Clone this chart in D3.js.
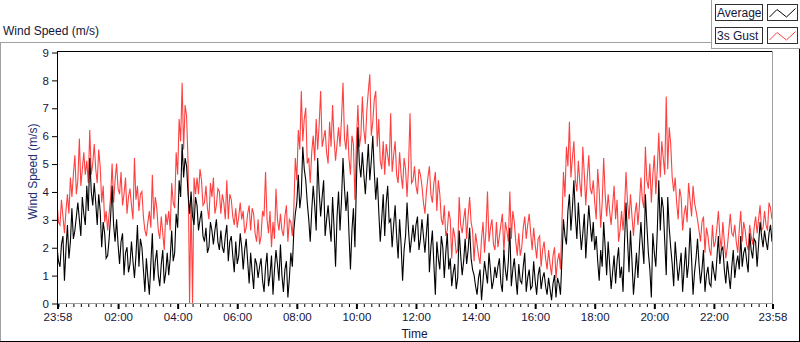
<!DOCTYPE html>
<html><head><meta charset="utf-8">
<script src="https://cdn.jsdelivr.net/npm/d3@7"></script>
<style>
html,body{margin:0;padding:0;background:#fff;}
svg{display:block;font-family:"Liberation Sans",Arial,sans-serif;}
</style></head><body><svg id="c" width="800" height="342"></svg>
<script>
// ---- data ----
const chartTitle = "Wind Speed (m/s)";
const yTitle = "Wind Speed (m/s)";
const xTitle = "Time";
const seriesNames = ["Average", "3s Gust"];
const yTickValues = [0,1,2,3,4,5,6,7,8,9];
const xMajorHours = [2,4,6,8,10,12,14,16,18,20,22];
const sampleMinutes = 3;
const gust = [
3.6,2.9,2.8,3.7,3.1, 2.5,3.3,3.9,3.2,4.5,
3.8,4.6,5.3,3.9,4.4, 5.9,4.2,4.8,5.4,4.6,
5.1,4.3,6.2,4.6,5.0, 5.7,4.8,4.3,5.5,4.9,
3.6,4.2,2.9,3.3,2.6, 3.2,3.8,5.0,3.6,4.4,
5.0,4.1,3.9,4.7,3.5, 3.9,4.5,3.2,3.8,4.1,
3.5,3.0,5.2,3.7,4.2, 3.3,3.9,4.0,3.1,2.6,
2.4,2.9,3.3,2.7,4.6, 3.0,3.8,3.4,2.6,2.3,
3.1,2.5,1.9,3.2,2.8, 3.3,2.6,4.3,3.6,3.4,
5.4,4.6,6.6,5.8,7.9, 5.5,7.1,6.7,5.0,0,
3.8,0,4.5,3.9,4.5, 3.9,4.8,4.4,3.5,3.6,
4.2,3.4,3.0,4.3,3.8, 4.5,3.2,3.5,4.1,4.0,
3.2,3.9,3.6,3.0,4.4, 3.0,3.9,3.7,3.1,2.8,
3.4,2.7,3.1,3.6,3.0, 3.3,2.5,2.7,3.2,3.5,
2.6,3.4,3.2,2.5,2.2, 3.0,2.1,2.4,3.3,3.1,
4.7,3.0,2.5,3.3,2.0, 2.9,2.3,4.1,3.0,2.6,
3.2,2.6,2.4,3.1,3.5, 2.2,3.0,2.9,2.4,3.4,
5.2,4.4,6.2,5.5,7.6, 5.8,6.6,7.0,5.0,5.2,
4.3,5.4,6.0,5.1,6.6, 5.5,6.4,7.6,5.6,5.9,
6.2,5.4,5.0,6.5,5.6, 7.1,5.9,5.1,5.7,6.3,
5.6,6.6,7.9,5.9,5.5, 6.4,5.2,4.6,6.0,5.7,
3.7,5.8,7.1,5.6,6.0, 7.4,6.2,5.7,6.9,7.6,
8.2,6.0,6.5,7.3,7.6, 5.6,6.6,5.1,4.8,5.8,
4.6,5.7,5.3,4.9,6.8, 4.7,5.3,5.8,4.6,4.3,
5.4,4.6,4.1,5.2,4.8, 3.8,4.9,6.8,4.3,4.4,
4.9,4.2,3.9,4.8,4.6, 4.2,3.6,3.2,4.0,4.5,
4.9,3.9,3.6,4.3,4.7, 3.3,4.4,3.9,3.0,2.8,
3.5,2.4,2.6,3.3,3.0, 1.6,2.7,2.4,1.8,1.9,
3.8,2.8,2.5,3.0,3.4, 2.3,3.1,3.8,2.9,2.6,
1.5,2.5,2.1,1.7,1.4, 2.3,2.9,1.8,2.6,4.0,
2.2,2.7,3.0,2.1,1.9, 2.9,2.0,2.4,2.8,3.2,
1.8,2.9,2.6,2.2,4.0, 2.3,3.3,2.9,2.2,1.7,
2.5,1.7,2.0,2.7,3.1, 2.3,2.8,3.2,2.5,1.9,
2.7,2.1,1.6,2.3,2.4, 1.3,1.9,2.2,1.6,1.2,
1.9,1.4,1.0,1.7,2.0, 0.9,1.5,1.8,1.2,2.9,
4.7,3.8,5.6,4.9,6.5, 4.5,5.2,5.8,4.4,4.0,
5.1,4.3,3.8,5.6,4.6, 3.5,4.5,5.3,4.1,3.9,
4.4,3.6,3.0,4.8,4.0, 2.7,3.6,5.2,3.9,3.1,
3.9,3.3,2.8,3.5,4.2, 3.0,3.7,2.2,2.6,3.3,
2.6,3.4,4.7,3.6,3.0, 3.9,3.1,2.4,3.2,3.6,
2.8,3.5,4.5,3.7,3.4, 5.6,4.4,4.1,5.0,3.6,
4.6,5.3,3.9,4.8,6.1, 4.5,5.8,5.2,4.6,7.4,
4.8,6.3,5.7,4.5,4.0, 4.5,3.6,3.0,4.1,3.8,
2.6,3.2,3.5,2.9,4.3, 3.7,3.1,4.2,3.6,3.3,
3.0,2.6,2.2,2.9,3.1, 1.8,2.7,2.4,1.9,1.7,
2.8,2.0,2.2,2.7,3.3, 2.4,1.9,2.9,2.2,1.6,
2.0,2.6,3.2,2.5,2.4, 2.8,2.2,1.8,2.6,3.3,
2.2,2.9,2.6,2.1,1.9, 2.8,2.4,2.1,2.7,3.1,
2.5,3.0,3.5,2.6,2.7, 3.3,2.8,2.6,3.6,3.4,
3.0
];
const average = [
2.0,1.5,1.3,2.1,2.4, 0.8,1.9,2.8,1.6,2.2,
3.4,2.3,2.6,3.1,3.6, 3.0,2.4,3.8,3.2,2.8,
4.2,3.3,5.2,4.0,3.5, 4.3,3.6,2.8,3.9,3.3,
2.0,2.9,2.5,1.6,1.7, 2.3,3.1,4.2,2.8,2.2,
3.0,2.1,1.4,2.2,2.5, 1.0,1.8,2.0,1.1,1.4,
2.2,1.5,0.9,1.7,2.8, 1.3,2.3,2.0,1.2,0.4,
1.6,0.9,0.3,1.4,2.5, 0.8,1.5,1.9,1.0,0.6,
1.4,1.9,0.7,1.1,1.8, 1.0,1.6,2.6,1.5,1.8,
3.2,2.7,4.4,3.8,5.7, 4.5,5.2,4.9,3.9,3.2,
4.0,3.1,2.8,3.8,3.5, 2.6,3.0,3.3,2.4,2.2,
2.7,1.8,2.0,2.9,2.6, 2.1,2.6,3.0,2.2,1.9,
2.6,2.0,1.8,2.4,2.8, 1.5,2.2,2.4,1.7,1.1,
2.2,1.4,1.7,2.5,2.0, 1.2,1.9,2.3,1.5,0.7,
1.8,1.1,0.5,1.6,1.4, 0.9,1.3,1.6,0.8,0.4,
1.3,1.8,0.6,1.0,1.7, 0.3,1.2,1.9,1.4,0.8,
2.1,1.0,0.4,1.2,1.5, 0.2,0.9,1.8,1.3,2.6,
3.2,3.6,4.6,3.4,3.9, 5.6,4.8,4.4,3.6,3.0,
2.2,3.3,4.2,3.5,2.6, 5.2,4.0,3.1,3.8,4.4,
2.4,3.0,3.5,2.8,2.2, 3.8,2.7,1.3,3.1,4.0,
2.6,3.7,5.2,4.1,3.3, 4.0,2.5,1.2,2.6,3.4,
2.0,4.3,6.3,5.0,4.5, 5.4,4.6,3.9,4.8,5.7,
4.4,5.1,6.0,4.7,3.7, 4.5,3.3,2.2,3.0,3.9,
2.4,3.6,4.2,2.9,3.0, 2.0,2.8,3.5,2.4,1.6,
3.0,2.1,0.8,1.9,2.4, 3.6,2.6,1.8,2.3,2.8,
2.2,2.8,3.1,1.9,2.3, 3.0,2.4,1.8,2.5,3.2,
1.1,2.0,2.6,1.4,0.3, 2.2,1.6,1.2,2.4,2.0,
0.9,1.8,2.5,1.2,1.6, 0.6,1.1,1.4,0.5,0.9,
2.6,1.7,1.0,1.5,2.3, 1.4,1.9,2.7,1.6,1.2,
1.0,0.6,0.3,0.9,1.2, 0.1,0.8,1.5,1.1,0.7,
1.8,1.2,0.5,0.8,1.3, 0.9,1.3,1.6,0.7,0.4,
1.9,1.2,0.8,1.5,2.7, 0.6,1.2,1.6,0.9,0.3,
1.4,0.8,0.7,1.3,1.8, 0.4,0.9,1.2,0.5,0.6,
1.5,0.8,0.3,1.0,1.3, 0.5,0.9,1.1,0.6,0.3,
0.9,0.5,0.1,0.7,1.0, 0.2,0.9,0.7,0.3,1.6,
3.0,2.4,2.1,3.3,3.9, 2.6,3.4,4.4,3.1,2.3,
3.6,2.7,1.9,2.5,3.2, 1.6,2.6,3.5,2.8,2.2,
2.9,1.9,2.4,1.5,0.8, 1.9,1.3,2.9,2.0,1.0,
2.2,1.4,0.5,1.1,1.7, 0.7,1.5,2.0,0.9,1.3,
0.4,2.2,3.6,2.3,1.1, 2.6,1.5,0.3,1.0,1.8,
0.9,2.0,2.9,2.1,1.4, 3.9,2.8,1.8,1.2,0.2,
2.5,1.8,1.3,2.6,4.4, 2.6,3.8,3.4,2.2,1.0,
3.8,2.7,2.0,1.4,0.6, 2.2,1.5,0.8,1.3,1.8,
0.4,1.2,2.0,0.9,1.4, 2.7,1.6,0.3,1.1,1.6,
2.3,1.4,0.7,1.2,1.9, 0.4,1.0,1.3,0.7,0.6,
1.5,1.1,0.8,1.6,2.4, 1.4,1.9,2.0,1.2,0.7,
1.5,1.0,0.5,1.3,1.9, 0.9,1.4,1.7,1.2,2.4,
1.3,1.8,2.0,1.5,1.1, 2.5,1.9,1.6,2.3,2.2,
1.3,2.1,2.9,2.4,2.0, 2.6,2.2,1.9,2.5,2.8,
2.2
];
const seriesColors = ["#000000", "#ff4040"];

// ---- layout ----
const svg = d3.select("#c");
const plot = {left:57, right:772, top:52, bottom:303};
const t0 = new Date(2020,0,1,23,58);
const t1 = d3.timeMinute.offset(t0, 1440);
const times = average.map((_, i) => d3.timeMinute.offset(t0, i*sampleMinutes));

const x = d3.scaleTime().domain([t0, t1]).range([plot.left, plot.right]);
const y = d3.scaleLinear().domain([0, 9]).range([plot.bottom, plot.top]);

const textColor = "#15153a";

// outer frame
svg.append("line").attr("x1",0).attr("x2",712).attr("y1",42.5).attr("y2",42.5).attr("stroke","#a0a0a0");
svg.append("line").attr("x1",0.5).attr("x2",0.5).attr("y1",42).attr("y2",341).attr("stroke","#a0a0a0");
svg.append("line").attr("x1",0).attr("x2",800).attr("y1",341.5).attr("y2",341.5).attr("stroke","#000");
svg.append("line").attr("x1",799.5).attr("x2",799.5).attr("y1",48).attr("y2",342).attr("stroke","#000");
// legend panel
svg.append("line").attr("x1",711.5).attr("x2",711.5).attr("y1",0).attr("y2",49).attr("stroke","#a0a0a0");
svg.append("line").attr("x1",711).attr("x2",800).attr("y1",48.5).attr("y2",48.5).attr("stroke","#a0a0a0");

// title
svg.append("text").attr("x",3).attr("y",35).attr("font-size",12).attr("fill",textColor).text(chartTitle);

// clip
svg.append("clipPath").attr("id","pc").append("rect")
  .attr("x",plot.left).attr("y",plot.top-1).attr("width",plot.right-plot.left).attr("height",plot.bottom-plot.top+1);

const line = d3.line().x((d,i)=>x(times[i])).y(d=>y(d));
const g = svg.append("g").attr("clip-path","url(#pc)");
g.append("path").datum(gust).attr("d",line).attr("fill","none").attr("stroke",seriesColors[1]).attr("stroke-width",1.1);
g.append("path").datum(average).attr("d",line).attr("fill","none").attr("stroke",seriesColors[0]).attr("stroke-width",1.1);

// plot border
svg.append("line").attr("x1",plot.left).attr("x2",plot.right+1).attr("y1",plot.top-0.5).attr("y2",plot.top-0.5).attr("stroke","#000");
svg.append("line").attr("x1",plot.right+0.5).attr("x2",plot.right+0.5).attr("y1",plot.top-1).attr("y2",plot.bottom).attr("stroke","#a0a0a0");
svg.append("line").attr("x1",plot.left).attr("x2",plot.right+1).attr("y1",plot.bottom+0.5).attr("y2",plot.bottom+0.5).attr("stroke","#a0a0a0");
svg.append("line").attr("x1",plot.left+0.5).attr("x2",plot.left+0.5).attr("y1",plot.top-1).attr("y2",plot.bottom+1).attr("stroke","#000");

// y axis
const yAxis = d3.axisLeft(y).tickValues(yTickValues).tickSize(5).tickPadding(3).tickFormat(d3.format("d"));
const ya = svg.append("g").attr("transform",`translate(${plot.left},0.5)`).call(yAxis);
ya.select(".domain").remove();
ya.selectAll("line").attr("stroke","#000");
ya.selectAll("text").attr("font-size",11.5).attr("fill",textColor).attr("font-family","Liberation Sans, Arial, sans-serif");

// x axis minor
const minorTicks = d3.timeMinute.every(15).range(t0, t1);
const xMinor = d3.axisBottom(x).tickValues(minorTicks).tickSize(3).tickFormat("");
const xm = svg.append("g").attr("transform",`translate(0.5,${plot.bottom+1})`).call(xMinor);
xm.select(".domain").remove();
xm.selectAll("line").attr("stroke","#000");

// x axis major
const majorTicks = [t0].concat(xMajorHours.map(h => new Date(2020,0,2,h,0))).concat([t1]);
const xAxis = d3.axisBottom(x).tickValues(majorTicks).tickSize(5).tickPadding(4).tickFormat(d3.timeFormat("%H:%M"));
const xa = svg.append("g").attr("transform",`translate(0.5,${plot.bottom+1})`).call(xAxis);
xa.select(".domain").remove();
xa.selectAll("line").attr("stroke","#000").attr("stroke-width",2);
xa.selectAll("text").attr("font-size",11.5).attr("fill",textColor).attr("font-family","Liberation Sans, Arial, sans-serif");

// axis titles
svg.append("text").attr("transform",`translate(36.5,${(plot.top+plot.bottom)/2-6}) rotate(-90)`)
  .attr("text-anchor","middle").attr("font-size",12).attr("fill","#243070").text(yTitle);
svg.append("text").attr("x",(plot.left+plot.right)/2).attr("y",338).attr("text-anchor","middle")
  .attr("font-size",12).attr("fill",textColor).text(xTitle);

// legend
const iconPts = [[2,12.5],[9.5,5],[19,12.5],[28,4]];
seriesNames.forEach((name, k) => {
  const top = 4.5 + k*23;
  const lg = svg.append("g");
  lg.append("rect").attr("x",715.5).attr("y",top).attr("width",47).attr("height",16).attr("fill","#fff").attr("stroke","#303030");
  lg.append("text").attr("x",717).attr("y",top+12.5).attr("font-size",12).attr("fill",textColor).text(name);
  lg.append("rect").attr("x",767.5).attr("y",top).attr("width",30).attr("height",16).attr("fill","#fff").attr("stroke","#303030");
  lg.append("path").attr("d", d3.line()(iconPts.map(p => [767.5+p[0], top+p[1]])))
    .attr("fill","none").attr("stroke",seriesColors[k]).attr("stroke-width",1);
});
</script></body></html>
